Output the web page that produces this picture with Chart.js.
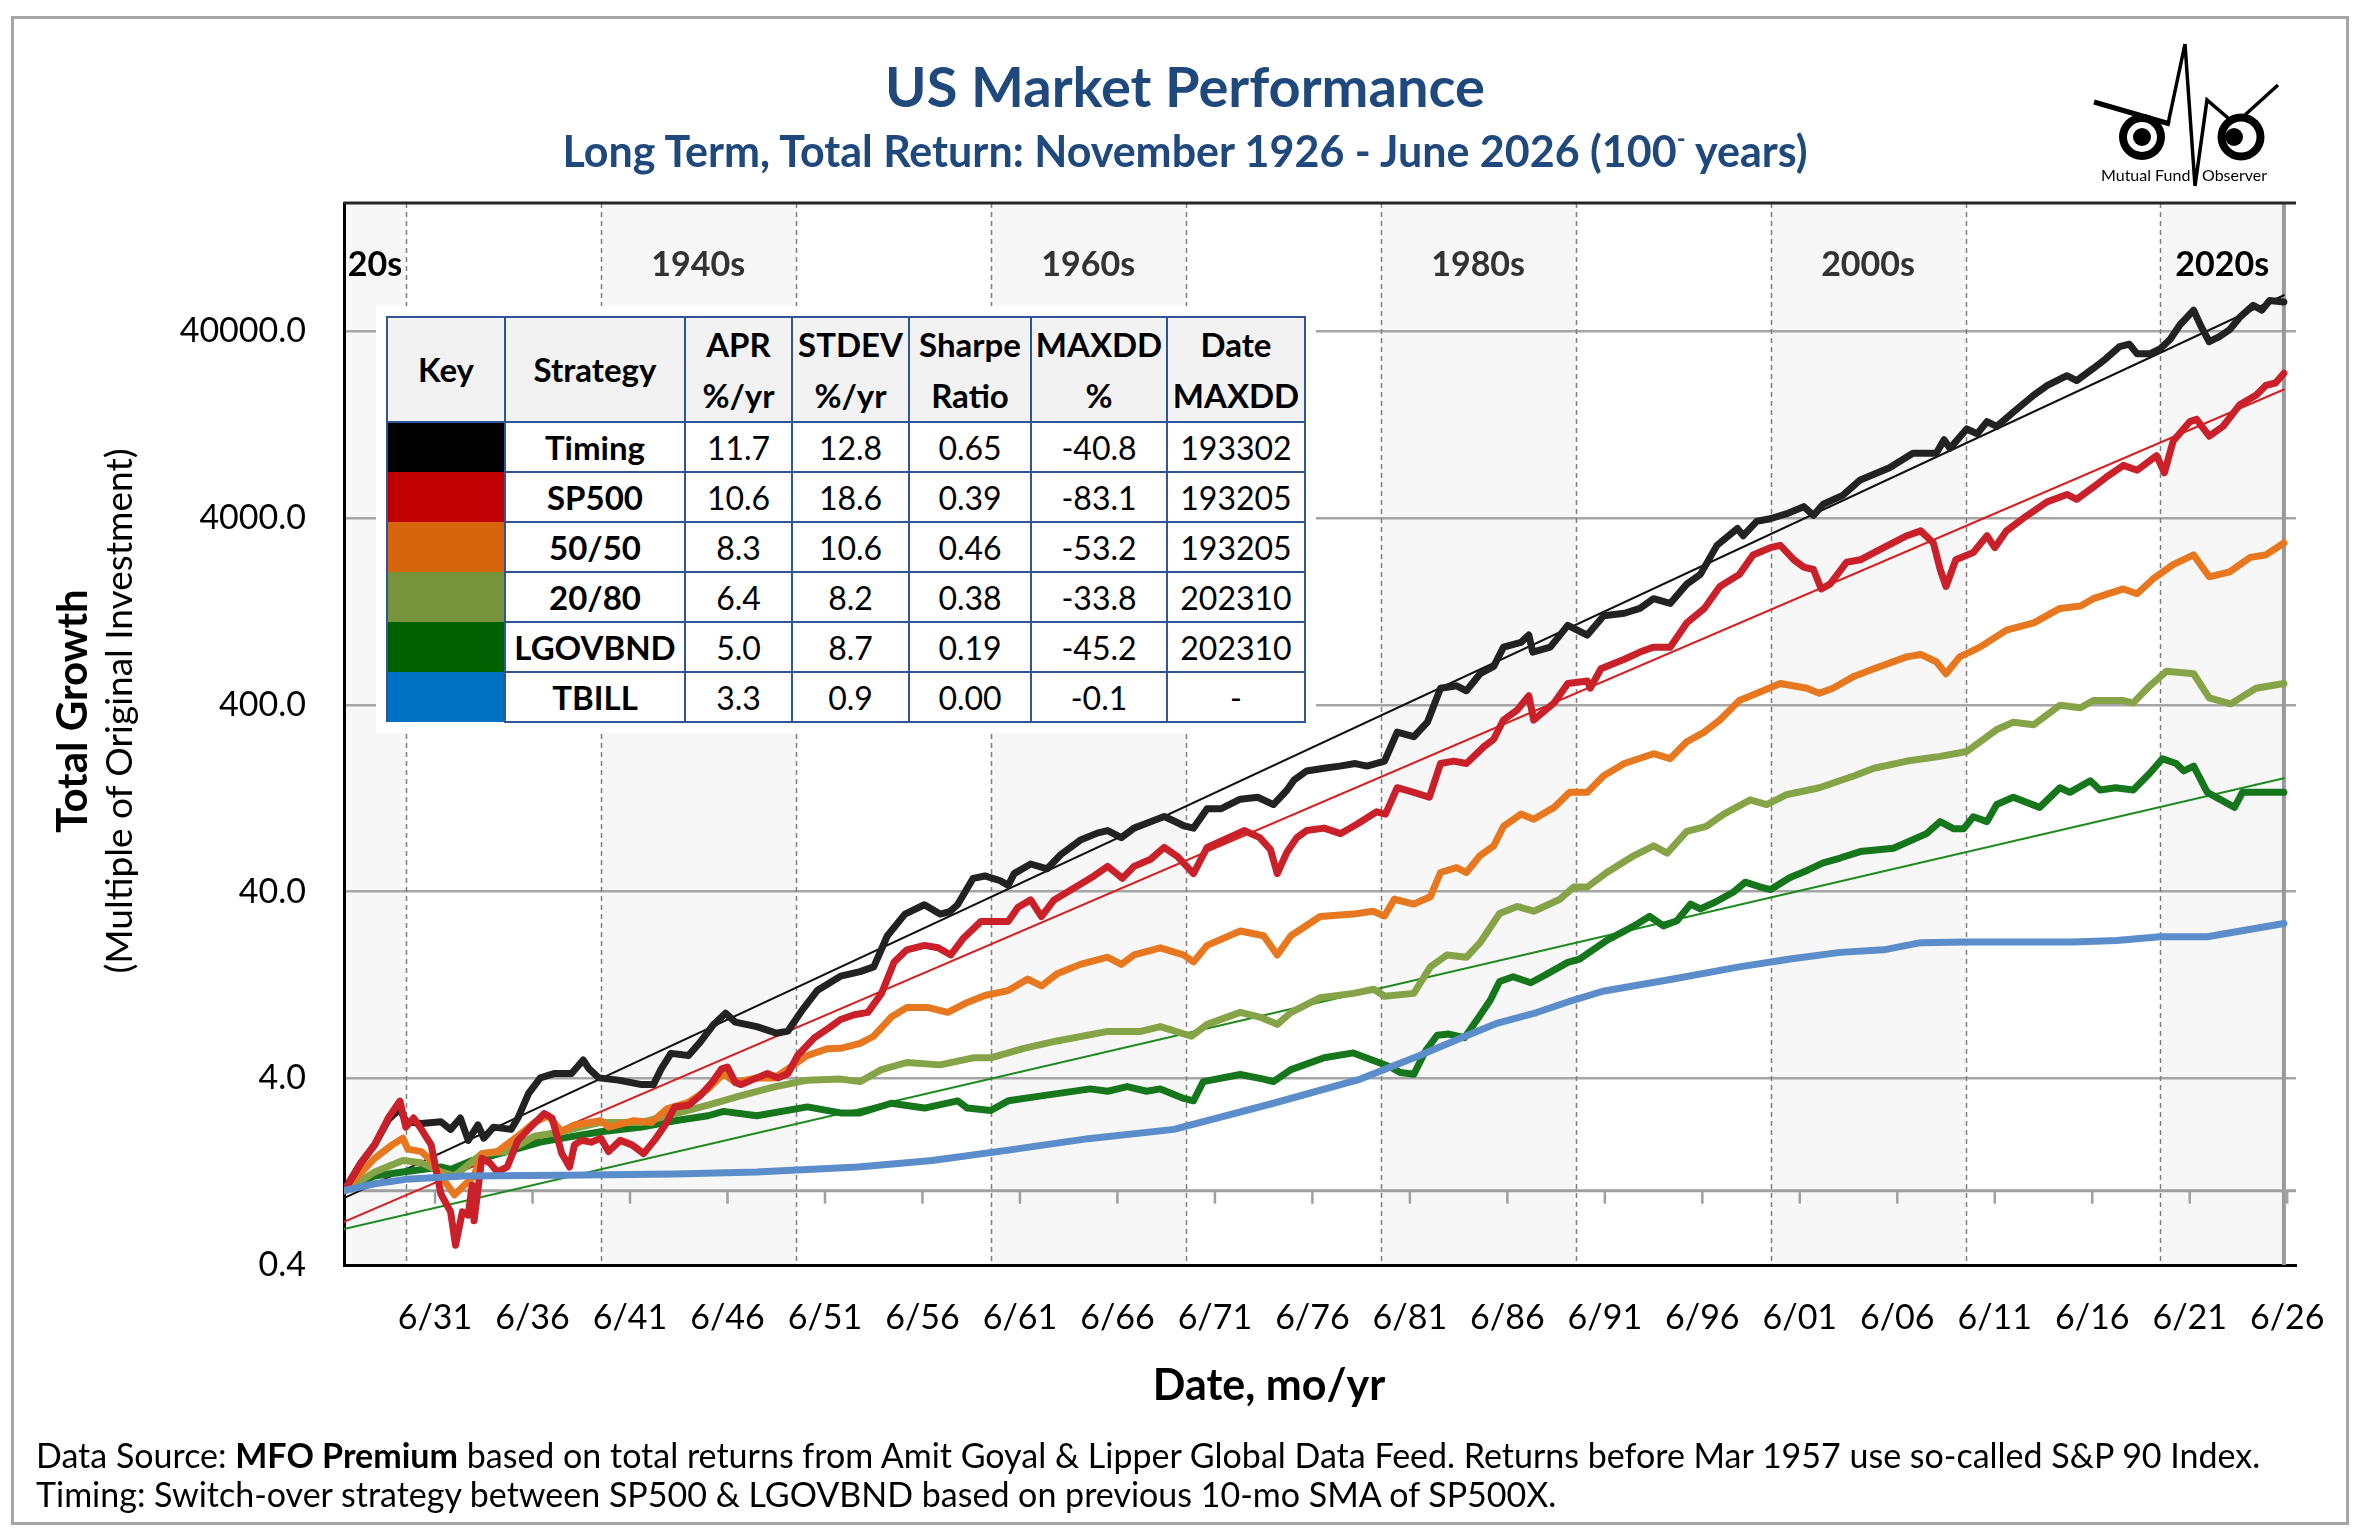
<!DOCTYPE html>
<html>
<head>
<meta charset="utf-8">
<script src="https://cdn.jsdelivr.net/npm/chart.js@4.4.1/dist/chart.umd.min.js"></script>
<style>
  html,body{margin:0;padding:0;background:#fff;}
  #wrap{position:relative;width:2363px;height:1537px;overflow:hidden;font-family:Lato,'Noto Sans',sans-serif;}
  #c{position:absolute;left:0;top:0;}
  .frame{position:absolute;left:11px;top:16px;width:2338px;height:1509px;border:3px solid #a6a6a6;box-sizing:border-box;pointer-events:none;}
  .ttl{position:absolute;left:0;width:2370px;text-align:center;color:#1f497d;font-weight:700;white-space:nowrap;}
  .ytitle{position:absolute;white-space:nowrap;transform:translate(-50%,-50%) rotate(-90deg);color:#000;}
  .xtitle{position:absolute;white-space:nowrap;transform:translate(-50%,-50%);font-weight:700;color:#000;font-size:43px;}
  .foot{position:absolute;left:36px;white-space:nowrap;font-size:34px;color:#000;transform:translateY(-50%);}
  #tblwrap{position:absolute;left:376px;top:306px;background:#fff;padding:10px;}
  table{border-collapse:collapse;font-family:Lato,'Noto Sans',sans-serif;color:#000;}
  td,th{border:2px solid #2f5597;text-align:center;padding:0;}
  th{background:#f2f2f2;font-weight:700;font-size:33px;line-height:51px;height:103px;}
  td{height:48px;font-size:32px;}
  td.s{font-weight:700;font-size:33px;}
  td.k{border-top:none;border-bottom:none;}
  #logo{position:absolute;left:2060px;top:30px;width:240px;height:170px;}
</style>
</head>
<body>
<div id="wrap">
  <canvas id="c" width="2363" height="1537"></canvas>
  <div class="frame"></div>
  <div class="ttl" style="top:56px;font-size:56px;line-height:60px;">US Market Performance</div>
  <div class="ttl" style="top:127px;font-size:43px;line-height:48px;">Long Term, Total Return: November 1926 - June 2026 (100<sup style="font-size:24px;vertical-align:20px;line-height:0;">-</sup> years)</div>
  <div class="ytitle" style="left:71px;top:711px;font-size:42px;font-weight:700;">Total Growth</div>
  <div class="ytitle" style="left:117px;top:711px;font-size:37px;">(Multiple of Original Investment)</div>
  <div class="xtitle" style="left:1269px;top:1383px;">Date, mo/yr</div>
  <div class="foot" style="top:1454px;">Data Source: <b>MFO Premium</b> based on total returns from Amit Goyal &amp; Lipper Global Data Feed. Returns before Mar 1957 use so-called S&amp;P 90 Index.</div>
  <div class="foot" style="top:1493px;">Timing: Switch-over strategy between SP500 &amp; LGOVBND based on previous 10-mo SMA of SP500X.</div>
  <div id="tblwrap"><table id="tbl"></table></div>
  <svg id="logo" viewBox="0 0 240 170" xmlns="http://www.w3.org/2000/svg">
    <line x1="34" y1="72" x2="110" y2="94" stroke="#000" stroke-width="5"/>
    <polyline points="108,94 125,14 135,156 147,70 175,94 218,55" fill="none" stroke="#000" stroke-width="3.5" stroke-linejoin="miter"/>
    <circle cx="82" cy="107" r="23" fill="#000"/><circle cx="82" cy="107" r="15" fill="#fff"/><circle cx="82" cy="107" r="9" fill="#000"/>
    <circle cx="181" cy="107" r="23.5" fill="#000"/><circle cx="181" cy="107" r="15.5" fill="#fff"/><circle cx="174" cy="107" r="9" fill="#000"/>
    <text x="41" y="151" font-family="Lato, sans-serif" font-size="16" fill="#000">Mutual Fund</text>
    <text x="142" y="151" font-family="Lato, sans-serif" font-size="16" fill="#000">Observer</text>
  </svg>
</div>
<script>
// ---------------- DATA ----------------
const timing = [[1926.83,1.0],[1927.7,1.41],[1928.4,1.76],[1929.1,2.40],[1929.7,2.75],[1930.0,2.35],[1930.8,2.29],[1931.8,2.34],[1932.3,2.13],[1932.8,2.45],[1933.2,1.86],[1933.7,2.25],[1934.0,1.91],[1934.5,2.19],[1935.4,2.13],[1935.75,2.45],[1936.3,3.32],[1936.9,4.02],[1937.6,4.24],[1938.5,4.24],[1939.1,5.01],[1939.4,4.49],[1939.9,4.02],[1940.9,3.91],[1942.1,3.70],[1942.7,3.70],[1943.1,4.49],[1943.6,5.44],[1944.5,5.30],[1945.1,6.25],[1945.8,7.79],[1946.4,8.93],[1946.9,8.0],[1948.0,7.57],[1948.7,7.16],[1949.0,6.97],[1949.6,7.16],[1950.3,9.18],[1951.1,11.8],[1952.0,13.5],[1952.3,14.1],[1953.3,14.9],[1954.0,15.8],[1954.7,23.2],[1955.6,30.3],[1956.6,34.0],[1957.4,30.3],[1957.9,31.2],[1958.3,34.0],[1959.1,47.1],[1959.7,48.5],[1960.5,45.7],[1960.9,43.1],[1961.2,49.9],[1962.05,56.2],[1962.9,53.0],[1963.6,63.2],[1964.6,75.5],[1965.5,82.5],[1966.0,84.9],[1966.7,77.8],[1967.35,87.5],[1968.0,92.9],[1968.9,101],[1969.4,95.5],[1969.9,90.1],[1970.4,87.5],[1971.1,111],[1971.8,111],[1972.8,125],[1973.7,128],[1974.5,117],[1975.2,140],[1975.55,158],[1976.2,177],[1977.1,183],[1977.9,188],[1978.7,194],[1979.3,188],[1980.2,200],[1980.85,286],[1981.7,270],[1982.4,323],[1983.07,491],[1983.9,506],[1984.4,476],[1985.1,587],[1985.8,643],[1986.3,815],[1987.2,865],[1987.6,946],[1987.8,767],[1988.7,815],[1989.6,1066],[1990.6,946],[1991.44,1202],[1992.5,1238],[1993.3,1314],[1994.0,1482],[1994.85,1397],[1995.7,1773],[1996.4,2000],[1997.25,2860],[1998.3,3524],[1998.6,3222],[1999.3,3853],[1999.98,3970],[2000.8,4216],[2001.7,4610],[2002.2,4140],[2002.7,4750],[2003.7,5300],[2004.6,6410],[2006.1,7447],[2007.3,8913],[2008.5,8913],[2008.9,10520],[2009.2,9460],[2010.06,12020],[2010.6,11330],[2011.1,13150],[2011.6,12390],[2012.45,14790],[2013.5,18230],[2014.2,20550],[2015.2,23170],[2015.7,21830],[2016.55,25350],[2017.2,28580],[2017.9,33190],[2018.4,34190],[2018.8,30340],[2019.45,30340],[2019.97,32210],[2020.5,36310],[2021.0,43450],[2021.7,51990],[2022.1,42170],[2022.5,35240],[2023.0,37410],[2023.55,40930],[2024.06,47530],[2024.75,55200],[2025.2,52000],[2025.6,58610],[2026.33,57540]];

const sp500 = [[1926.83,1.0],[1927.7,1.41],[1928.4,1.76],[1929.1,2.45],[1929.7,3.02],[1930.0,2.19],[1930.4,2.45],[1930.8,2.13],[1931.3,1.76],[1931.8,0.96],[1932.3,0.77],[1932.55,0.51],[1932.9,0.77],[1933.2,0.74],[1933.4,1.07],[1933.5,0.69],[1933.9,1.49],[1934.3,1.41],[1934.7,1.26],[1935.2,1.34],[1935.75,1.86],[1936.4,2.19],[1937.1,2.59],[1937.5,2.45],[1938.0,1.58],[1938.4,1.34],[1938.65,1.76],[1939.0,1.86],[1939.5,1.82],[1940.0,1.91],[1940.4,1.62],[1941.0,1.86],[1941.6,1.76],[1942.2,1.58],[1942.75,1.86],[1943.3,2.25],[1943.8,2.81],[1944.5,2.87],[1945.1,3.23],[1945.7,3.80],[1946.2,4.49],[1946.5,4.60],[1946.9,3.80],[1947.2,3.70],[1948.0,4.02],[1948.55,4.24],[1949.1,4.02],[1949.6,4.24],[1950.1,5.30],[1950.95,6.59],[1951.8,7.57],[1952.3,8.26],[1953.0,8.76],[1953.7,9.02],[1954.4,11.4],[1955.05,16.8],[1955.7,19.5],[1956.6,20.6],[1957.3,20.0],[1957.95,18.3],[1958.6,22.5],[1959.5,27.7],[1960.9,27.7],[1961.4,33.0],[1962.05,36.1],[1962.6,29.4],[1963.25,36.1],[1964.3,41.9],[1965.3,48.5],[1966.0,54.6],[1966.75,47.1],[1967.35,54.6],[1968.2,59.6],[1968.9,69.0],[1969.6,61.4],[1970.4,49.9],[1971.1,69.0],[1971.95,75.5],[1973.0,84.9],[1973.8,77.8],[1974.35,67.1],[1974.7,49.9],[1975.2,65.2],[1975.7,77.8],[1976.2,84.9],[1977.1,87.5],[1977.94,81.7],[1978.8,92.0],[1979.8,107],[1980.25,104],[1980.85,144],[1981.7,136],[1982.5,128],[1983.07,194],[1983.75,200],[1984.4,194],[1985.3,239],[1985.8,262],[1986.3,332],[1987.0,375],[1987.6,448],[1987.85,332],[1988.9,410],[1989.6,521],[1990.6,537],[1990.75,491],[1991.3,624],[1992.5,702],[1993.3,767],[1994.0,815],[1994.85,815],[1995.7,1099],[1996.6,1314],[1997.4,1722],[1998.4,2000],[1999.1,2541],[1999.98,2780],[2000.5,2860],[2001.2,2393],[2001.7,2188],[2002.2,2124],[2002.6,1671],[2003.05,1773],[2003.9,2323],[2004.6,2393],[2005.8,2780],[2007.0,3222],[2007.7,3420],[2008.35,2946],[2008.7,2124],[2009.0,1722],[2009.5,2393],[2010.4,2618],[2011.1,3222],[2011.5,2780],[2012.1,3420],[2013.1,4093],[2014.2,4900],[2015.2,5358],[2015.7,5047],[2016.55,5860],[2017.2,6607],[2018.1,7674],[2018.8,7227],[2019.8,8650],[2020.2,7000],[2020.65,10350],[2021.5,13150],[2021.85,13530],[2022.5,10990],[2023.2,12390],[2024.06,16180],[2024.9,18230],[2025.4,20550],[2025.9,21180],[2026.33,23880]];

const mix5050 = [[1926.83,1.0],[1928.4,1.49],[1929.3,1.76],[1929.85,1.91],[1930.1,1.67],[1930.8,1.62],[1931.3,1.45],[1931.8,1.20],[1932.5,0.95],[1933.0,1.07],[1933.5,1.20],[1933.9,1.58],[1934.7,1.62],[1935.75,1.96],[1936.6,2.32],[1937.3,2.52],[1938.0,2.07],[1938.65,2.25],[1940.0,2.37],[1940.4,2.19],[1941.7,2.37],[1942.6,2.32],[1943.4,2.74],[1944.5,2.97],[1945.5,3.50],[1946.3,4.24],[1946.9,3.80],[1948.0,4.02],[1948.9,4.02],[1949.6,4.49],[1950.6,5.30],[1951.6,5.75],[1952.3,5.79],[1953.3,6.15],[1954.0,6.72],[1954.9,8.51],[1955.7,9.57],[1956.8,9.57],[1957.8,9.02],[1958.8,10.2],[1959.7,11.1],[1960.9,11.8],[1961.9,13.6],[1962.6,12.5],[1963.4,14.5],[1964.6,16.3],[1966.0,17.8],[1966.7,16.3],[1967.35,18.3],[1968.7,20.0],[1969.9,18.3],[1970.4,16.8],[1971.1,20.6],[1972.8,24.6],[1974.0,23.2],[1974.7,18.3],[1975.4,23.2],[1976.9,29.4],[1978.6,30.3],[1979.6,31.4],[1980.2,29.6],[1980.7,36.4],[1981.7,34.3],[1982.55,37.5],[1983.07,50.6],[1983.9,53.7],[1984.4,50.6],[1985.1,62.4],[1985.8,70.3],[1986.3,89.3],[1987.2,104],[1987.85,97.7],[1988.9,113],[1989.7,136],[1990.6,136],[1991.44,167],[1992.5,194],[1994.0,219],[1994.85,206],[1995.7,254],[1996.6,286],[1997.4,332],[1998.4,422],[1999.3,462],[2000.5,521],[2001.86,491],[2002.5,462],[2003.2,491],[2004.3,570],[2005.3,624],[2006.98,723],[2007.7,745],[2008.5,681],[2009.0,587],[2009.7,723],[2010.74,815],[2012.1,1005],[2013.5,1099],[2014.84,1314],[2015.9,1355],[2016.55,1482],[2018.1,1671],[2018.8,1574],[2019.6,1884],[2020.65,2255],[2021.7,2541],[2022.5,1941],[2023.55,2061],[2024.6,2466],[2025.4,2541],[2026.33,2946]];

const mix2080 = [[1926.83,1.0],[1928.4,1.26],[1929.85,1.45],[1930.8,1.41],[1931.8,1.26],[1932.5,1.20],[1933.9,1.58],[1935.2,1.62],[1936.6,1.96],[1938.0,2.07],[1940.0,2.32],[1942.1,2.32],[1943.4,2.52],[1945.5,2.87],[1947.2,3.23],[1948.9,3.60],[1950.6,3.91],[1952.3,3.96],[1953.3,3.84],[1954.4,4.45],[1955.7,4.86],[1957.4,4.72],[1959.1,5.15],[1960.0,5.15],[1961.7,5.79],[1963.4,6.34],[1966.0,7.13],[1967.7,7.13],[1968.7,7.57],[1970.3,6.72],[1971.1,7.78],[1972.8,9.02],[1973.8,8.51],[1974.7,7.78],[1975.4,9.02],[1976.9,10.8],[1978.6,11.4],[1979.65,12.0],[1980.2,11.0],[1981.7,11.4],[1982.55,15.8],[1983.4,18.3],[1984.4,17.8],[1985.1,21.3],[1986.1,30.5],[1987.0,33.3],[1987.85,31.4],[1989.2,36.4],[1989.9,42.3],[1990.6,42.3],[1991.6,50.6],[1993.0,62.4],[1994.0,70.3],[1994.7,64.3],[1995.7,84.1],[1996.7,89.3],[1997.6,104],[1998.96,124],[1999.8,117],[2000.8,132],[2002.5,144],[2004.3,167],[2005.3,183],[2007.0,200],[2008.7,212],[2010.06,225],[2011.6,295],[2012.45,323],[2013.5,313],[2014.84,398],[2015.9,386],[2016.55,422],[2018.1,422],[2018.6,410],[2019.45,506],[2020.3,605],[2021.7,587],[2022.5,436],[2023.6,405],[2024.9,491],[2026.33,521]];

const lgovbnd = [[1926.83,1.0],[1928.4,1.20],[1929.85,1.26],[1931.8,1.34],[1932.3,1.30],[1933.4,1.45],[1935.2,1.62],[1936.9,1.82],[1938.65,1.96],[1940.0,2.07],[1942.1,2.19],[1943.8,2.37],[1945.5,2.52],[1946.3,2.66],[1948.0,2.52],[1950.6,2.81],[1952.3,2.61],[1953.3,2.61],[1954.9,2.94],[1956.6,2.77],[1958.3,3.03],[1958.8,2.77],[1960.0,2.69],[1960.9,3.03],[1962.6,3.22],[1965.1,3.51],[1966.0,3.41],[1967.0,3.61],[1968.0,3.41],[1968.7,3.51],[1969.9,3.12],[1970.4,3.03],[1970.9,3.84],[1972.8,4.19],[1974.0,3.96],[1974.5,3.84],[1975.4,4.45],[1977.1,5.15],[1978.6,5.47],[1979.8,4.9],[1980.5,4.6],[1981.0,4.3],[1981.7,4.2],[1982.3,5.6],[1982.9,6.8],[1983.5,6.9],[1984.3,6.6],[1985.0,8.4],[1985.63,10.5],[1986.1,13.2],[1986.8,14.0],[1987.7,13.0],[1988.5,14.4],[1989.6,16.7],[1990.2,17.4],[1991.6,21.9],[1993.0,26.2],[1993.8,29.5],[1994.5,26.2],[1995.2,27.9],[1995.9,34.3],[1996.4,32.3],[1997.2,35.3],[1998.1,39.8],[1998.7,44.9],[1999.5,42.3],[2000.0,41.0],[2001.0,47.6],[2001.9,52.1],[2002.7,57.0],[2003.57,60.5],[2004.6,65.5],[2006.3,68.2],[2008.0,81.7],[2008.7,94.8],[2009.4,86.7],[2009.9,86.7],[2010.4,100.7],[2011.1,94.8],[2011.6,117],[2012.45,128],[2013.8,113],[2014.84,144],[2015.35,136],[2016.4,157],[2016.9,140],[2017.7,144],[2018.6,140],[2019.45,172],[2020.1,206],[2020.8,194],[2021.2,177],[2021.7,188],[2022.4,136],[2023.8,113],[2024.2,136],[2025.4,136],[2026.33,136]];

const tbill = [[1926.83,1.0],[1928.4,1.09],[1930.0,1.15],[1933.0,1.20],[1938.0,1.21],[1943.8,1.23],[1948.0,1.26],[1953.2,1.34],[1957.0,1.45],[1960.9,1.65],[1965.0,1.90],[1969.4,2.13],[1974.5,2.94],[1978.96,3.96],[1982.0,5.3],[1984.0,6.5],[1986.0,7.9],[1988.0,9.0],[1989.9,10.5],[1991.4,11.7],[1995.0,13.6],[1998.4,15.8],[2001.0,17.4],[2003.57,18.9],[2005.8,19.5],[2007.7,21.3],[2010.0,21.5],[2015.5,21.5],[2017.75,21.9],[2019.97,22.9],[2022.4,22.9],[2026.33,27.0]];

// regression (trend) lines: start and end values
const timingTrend = [[1926.83,0.914],[2026.33,62500]];
const sp500Trend  = [[1926.83,0.682],[2026.33,19540]];
const lgovTrend   = [[1926.83,0.624],[2026.33,162]];

// axis ticks and decade bands
const xTickYears = [1931.5,1936.5,1941.5,1946.5,1951.5,1956.5,1961.5,1966.5,1971.5,1976.5,1981.5,1986.5,1991.5,1996.5,2001.5,2006.5,2011.5,2016.5,2021.5,2026.5];
const yTicks = [0.4,4,40,400,4000,40000];
const decadeLines = [1930,1940,1950,1960,1970,1980,1990,2000,2010,2020];
const bandLabels = ['20s','1940s','1960s','1980s','2000s','2020s'];
const bandStarts = [1926.83,1940,1960,1980,2000,2020];
const bandEnds   = [1930,1950,1970,1990,2010,2026.33];

// table
const tblStrategies = ['Timing','SP500','50/50','20/80','LGOVBND','TBILL'];
const tblAPR    = ['11.7','10.6','8.3','6.4','5.0','3.3'];
const tblSTDEV  = ['12.8','18.6','10.6','8.2','8.7','0.9'];
const tblSharpe = ['0.65','0.39','0.46','0.38','0.19','0.00'];
const tblMAXDD  = ['-40.8','-83.1','-53.2','-33.8','-45.2','-0.1'];
const tblDate   = ['193302','193205','193205','202310','202310','-'];
const keyColors = ['#000000','#c00000','#d7650c','#77933c','#006100','#0070c0'];

// ---------------- TABLE ----------------
(function(){
  const colW=[118,180,107,117,122,136,138];
  let h='<colgroup>'+colW.map(w=>'<col style="width:'+w+'px">').join('')+'</colgroup>';
  h+='<tr><th>Key</th><th>Strategy</th><th>APR<br>%/yr</th><th>STDEV<br>%/yr</th><th>Sharpe<br>Ratio</th><th>MAXDD<br>%</th><th>Date<br>MAXDD</th></tr>';
  for(let i=0;i<tblStrategies.length;i++){
    h+='<tr><td class="k" style="background:'+keyColors[i]+'"></td><td class="s">'+tblStrategies[i]+'</td><td>'+tblAPR[i]+'</td><td>'+tblSTDEV[i]+'</td><td>'+tblSharpe[i]+'</td><td>'+tblMAXDD[i]+'</td><td>'+tblDate[i]+'</td></tr>';
  }
  document.getElementById('tbl').innerHTML=h;
})();

// ---------------- CHART ----------------
Chart.defaults.font.family = "Lato, 'Noto Sans', sans-serif";
const toXY = arr => arr.map(p => ({x:p[0], y:p[1]}));
function ser(label, arr, color, w){
  return {label, data:toXY(arr), borderColor:color, backgroundColor:color, borderWidth:w,
          pointRadius:0, tension:0, fill:false, borderJoinStyle:'round', borderCapStyle:'round'};
}

const decor = {
  id:'decor',
  beforeDraw(chart){
    const {ctx, chartArea:a, scales:{x,y}} = chart;
    ctx.save();
    ctx.fillStyle = '#f7f7f7';
    for(let i=0;i<bandStarts.length;i++){
      const x0=x.getPixelForValue(bandStarts[i]), x1=x.getPixelForValue(bandEnds[i]);
      ctx.fillRect(x0,a.top,x1-x0,a.bottom-a.top);
    }
    ctx.restore();
  },
  beforeDatasetsDraw(chart){
    const {ctx, chartArea:a, scales:{x,y}} = chart;
    ctx.save();
    ctx.strokeStyle='#7f7f7f'; ctx.lineWidth=1.5; ctx.setLineDash([5,4]);
    decadeLines.forEach(d=>{const px=Math.round(x.getPixelForValue(d))+0.5;ctx.beginPath();ctx.moveTo(px,a.top);ctx.lineTo(px,a.bottom);ctx.stroke();});
    ctx.setLineDash([]);
    const xe=x.getPixelForValue(bandEnds[bandEnds.length-1]);
    ctx.strokeStyle='#9a9a9a'; ctx.lineWidth=4;
    ctx.beginPath();ctx.moveTo(xe,a.top);ctx.lineTo(xe,a.bottom);ctx.stroke();
    const y1=y.getPixelForValue(1);
    ctx.strokeStyle='#a0a0a0'; ctx.lineWidth=3;
    ctx.beginPath();ctx.moveTo(a.left,y1);ctx.lineTo(a.right,y1);ctx.stroke();
    ctx.lineWidth=2.5;
    xTickYears.forEach(t=>{const px=x.getPixelForValue(t);ctx.beginPath();ctx.moveTo(px,y1);ctx.lineTo(px,y1+13);ctx.stroke();});
    ctx.strokeStyle='#262626'; ctx.lineWidth=3;
    ctx.beginPath();ctx.moveTo(a.left,a.top);ctx.lineTo(a.right,a.top);ctx.stroke();
    ctx.font="700 34px Lato, 'Noto Sans', sans-serif"; ctx.textAlign='center'; ctx.textBaseline='middle';
    bandLabels.forEach((lab,i)=>{
      const cx=(x.getPixelForValue(bandStarts[i])+x.getPixelForValue(bandEnds[i]))/2;
      ctx.fillStyle=(i===0||i===bandLabels.length-1)?'#000':'#333';
      ctx.fillText(lab,cx,a.top+62);
    });
    ctx.restore();
  }
};

new Chart(document.getElementById('c'), {
  type:'line',
  data:{datasets:[
    ser('TBILL', tbill, '#5b8dcb', 7),
    ser('SP500', sp500, '#c9202a', 7),
    ser('Timing', timing, '#222222', 7),
    ser('50/50', mix5050, '#e8781f', 7),
    ser('20/80', mix2080, '#86a447', 7),
    ser('LGOVBND', lgovbnd, '#16761c', 7),
    ser('Timing trend', timingTrend, '#111111', 2),
    ser('SP500 trend', sp500Trend, '#d42020', 2),
    ser('LGOVBND trend', lgovTrend, '#1e8a1e', 2)
  ]},
  options:{
    responsive:false, animation:false, devicePixelRatio:1,
    layout:{padding:{left:0,top:203,right:67,bottom:0}},
    plugins:{legend:{display:false}, tooltip:{enabled:false}, title:{display:false}},
    scales:{
      x:{type:'linear', min:1926.83, max:2026.95,
         afterBuildTicks:s=>{s.ticks=xTickYears.map(v=>({value:v}));},
         afterFit:s=>{s.height=272;},
         ticks:{autoSkip:false, maxRotation:0, minRotation:0, padding:33, color:'#000', font:{size:34},
                callback:v=>'6/'+String(Math.floor(v)%100).padStart(2,'0')},
         grid:{display:false, drawTicks:false},
         border:{display:true, color:'#000', width:3}},
      y:{type:'logarithmic', min:0.4, max:195000,
         afterBuildTicks:s=>{s.ticks=yTicks.map(v=>({value:v}));},
         afterFit:s=>{s.width=344;},
         ticks:{padding:38, color:'#000', font:{size:34}, callback:v=>Number(v).toFixed(1)},
         grid:{color:'#a6a6a6', lineWidth:2.5, drawTicks:false},
         border:{display:true, color:'#000', width:3}}
    }
  },
  plugins:[decor]
});
</script>
</body>
</html>
